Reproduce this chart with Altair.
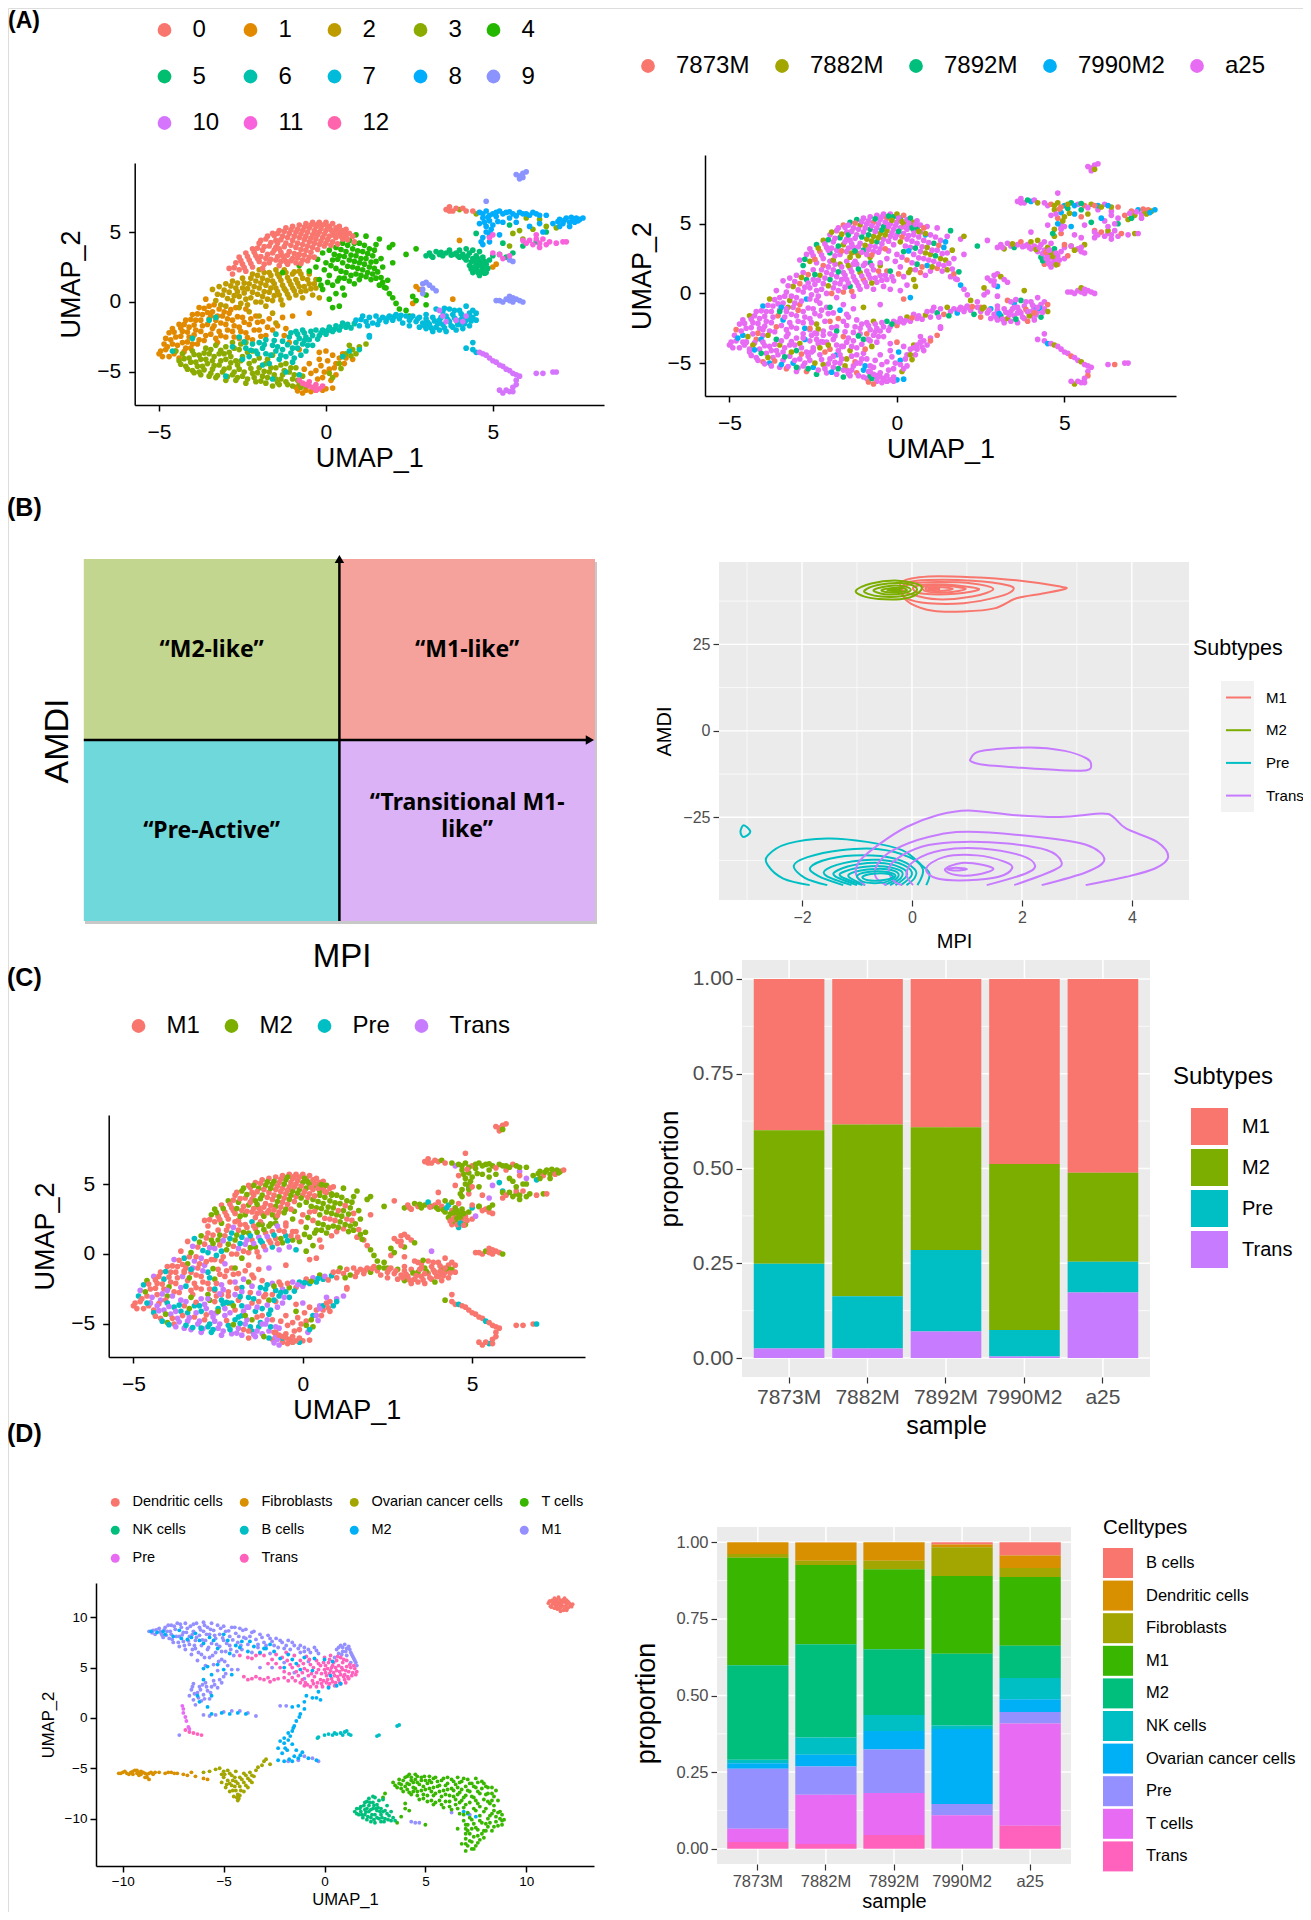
import itertools
import altair as alt
import pandas as pd

W, H = 1295, 1904
FONT = "Liberation Sans"

# ---------- UMAP (A, C): per cluster cell positions ----------
C1 = [(-5.0,-3.7),(-4.9,-3.9),(-4.8,-3.4),(-4.8,-2.6),(-4.7,-3.9),(-4.7,-2.2),(-4.6,-3.0),(-4.6,-1.9),(-4.5,-3.5),(-4.5,-2.5),(-4.4,-1.6),(-4.4,-4.0),(-4.3,-2.9),(-4.3,-2.1),(-4.2,-1.3),(-4.2,-3.3),(-4.1,-2.5),(-4.1,-1.8),(-4.0,-0.9),(-4.0,-3.0),(-3.9,-2.0),(-3.9,-1.3),(-3.8,-0.4),(-3.8,-2.7),(-3.7,-1.7),(-3.7,-0.9),(-3.6,0.2),(-3.6,-2.4),(-3.5,-1.2),(-3.5,-0.3),(-3.4,-1.9),(-3.4,-0.7),(-3.3,-2.6),(-3.3,-1.3),(-3.2,-0.5),(-3.2,-2.1),(-3.1,-1.0),(-3.0,-2.5),(-3.0,-1.6),(-2.9,-0.8),(-2.8,-2.1),(-2.8,-1.3),(-2.7,-0.4),(-2.6,-1.8),(-2.6,-2.6),(-2.5,-1.1),(-2.4,-2.2),(-2.4,-0.5),(-2.3,-1.6),(-2.2,-2.7),(-2.1,-1.0),(-2.0,-2.0),(-1.9,-1.4),(-1.8,-2.4),(-1.7,-1.2),(-1.6,-2.0),(-1.3,-1.1),(-1.2,-1.9),(-1.0,-1.0),(-1.1,-2.9),(-0.8,-3.4),(-0.5,-0.8),(-0.2,-3.6),(0.0,-3.5),(0.2,-3.8),(0.3,-4.4),(0.1,-4.8),(0.3,-5.2),(-0.1,-5.4),(-0.3,-4.9),(0.5,-3.7),(0.6,-4.0),(0.8,-4.1),(0.4,-4.0),(-0.6,-6.3),(-0.7,-6.5),(-0.9,-6.1),(-0.3,-6.3),(0.0,-6.2),(-0.2,-4.1),(-0.5,-4.4),(4.0,4.4),(3.8,0.2),(2.7,1.1),(2.8,0.9),(2.6,-0.1),(5.0,2.5),(5.1,2.7),
 (-4.95,-3.5),(-4.85,-3.0),(-4.75,-3.2),(-4.65,-2.7),(-4.55,-2.15),(-4.55,-3.7),(-4.45,-3.1),(-4.35,-2.45),(-4.35,-1.85),(-4.25,-3.55),(-4.25,-1.6),(-4.15,-2.85),(-4.15,-2.15),(-4.05,-1.25),(-4.05,-3.3),(-3.95,-2.35),(-3.95,-1.65),(-3.85,-0.85),(-3.85,-3.0),(-3.75,-2.1),(-3.75,-1.3),(-3.65,-0.45),(-3.65,-2.75),(-3.55,-1.6),(-3.55,-0.75),(-3.45,-2.3),(-3.45,-1.0),(-3.35,-1.7),(-3.35,-0.2),(-3.25,-2.9),(-3.25,-1.0),(-3.15,-1.5),(-3.15,-2.4),(-3.05,-0.7),(-2.95,-2.0),(-2.95,-1.2),(-2.85,-0.55),(-2.75,-1.7),(-2.75,-2.5),(-2.65,-1.05),(-2.55,-2.1),(-2.45,-1.45),(-2.35,-2.55),(-2.25,-1.2),(-2.15,-2.0),(-2.05,-1.45),(-1.95,-2.45),(-1.75,-1.8),(-1.45,-1.7),(-1.25,-2.4),(0.05,-4.2),(0.25,-4.7),(-0.05,-5.0),(-0.15,-4.55),(0.15,-5.6),(-0.25,-5.5),(-0.45,-5.1),(-0.65,-4.8),(0.55,-4.4),(-0.85,-6.35),(-0.45,-6.4),(-0.1,-6.3),(0.2,-6.15)]
C2 = [(-3.4,0.9),(-3.3,0.1),(-3.2,1.1),(-3.1,0.5),(-3.0,-0.3),(-3.0,1.3),(-2.9,0.7),(-2.8,0.1),(-2.8,1.5),(-2.7,1.0),(-2.6,-0.4),(-2.6,0.4),(-2.5,1.7),(-2.5,1.0),(-2.4,0.2),(-2.3,1.3),(-2.3,-0.7),(-2.2,0.7),(-2.2,2.0),(-2.1,1.5),(-2.1,0.0),(-2.0,1.0),(-2.0,2.3),(-1.9,0.4),(-1.9,1.7),(-1.8,-0.3),(-1.8,1.2),(-1.7,2.1),(-1.7,0.7),(-1.6,1.5),(-1.6,0.1),(-1.5,2.3),(-1.5,1.0),(-1.4,0.5),(-1.4,1.8),(-1.3,1.2),(-1.3,-0.2),(-1.2,2.1),(-1.2,0.8),(-1.1,1.5),(-1.1,0.3),(-1.0,2.0),(-1.0,1.0),(-0.9,0.5),(-0.9,1.6),(-0.8,2.2),(-0.8,1.1),(-0.7,0.3),(-0.7,1.7),(-0.6,0.8),(-0.5,1.3),(-0.5,2.0),(-0.4,0.5),(-0.3,1.0),(-0.3,1.6),(-0.2,0.3),(-1.6,-0.8),(-2.0,-1.0),(-1.5,-1.5),
 (-3.25,0.55),(-3.15,-0.2),(-3.05,0.85),(-2.95,0.25),(-2.85,1.15),(-2.75,0.45),(-2.65,0.75),(-2.65,1.35),(-2.55,-0.1),(-2.45,0.65),(-2.45,1.35),(-2.35,-0.2),(-2.35,0.95),(-2.25,1.7),(-2.25,0.3),(-2.15,1.1),(-2.05,0.55),(-2.05,1.9),(-1.95,1.35),(-1.95,0.0),(-1.85,0.75),(-1.85,2.1),(-1.75,1.55),(-1.75,0.2),(-1.65,1.0),(-1.65,1.9),(-1.55,0.45),(-1.55,1.3),(-1.45,2.0),(-1.45,0.75),(-1.35,1.55),(-1.35,0.15),(-1.25,0.95),(-1.25,2.3),(-1.15,1.75),(-1.15,0.55),(-1.05,1.25),(-0.95,0.8),(-0.95,2.15),(-0.85,1.35),(-0.75,0.75),(-0.75,2.0),(-0.65,1.1),(-0.55,1.6),(-0.45,0.95),(-0.35,1.3)]
C3 = [(-4.5,-3.5),(-4.4,-4.2),(-4.3,-3.7),(-4.2,-4.6),(-4.1,-4.0),(-4.0,-3.5),(-4.0,-4.9),(-3.9,-4.3),(-3.8,-3.8),(-3.8,-5.0),(-3.7,-4.6),(-3.6,-3.3),(-3.6,-4.1),(-3.5,-5.3),(-3.5,-3.7),(-3.4,-4.8),(-3.4,-4.2),(-3.3,-3.1),(-3.3,-5.4),(-3.2,-3.7),(-3.2,-4.5),(-3.1,-5.0),(-3.0,-3.2),(-3.0,-4.1),(-3.0,-5.6),(-2.9,-4.7),(-2.9,-3.6),(-2.8,-5.2),(-2.8,-2.9),(-2.7,-4.2),(-2.7,-5.6),(-2.6,-3.4),(-2.6,-4.8),(-2.5,-5.3),(-2.5,-3.9),(-2.4,-5.8),(-2.4,-2.9),(-2.3,-4.4),(-2.2,-5.1),(-2.2,-3.5),(-2.1,-5.7),(-2.0,-4.7),(-2.0,-4.0),(-1.9,-5.3),(-1.8,-5.8),(-1.8,-4.4),(-1.7,-5.0),(-1.6,-6.0),(-1.6,-3.8),(-1.5,-5.5),(-1.5,-4.7),(-1.4,-5.9),(-1.3,-5.2),(-1.2,-4.4),(-1.2,-5.7),(-1.1,-5.0),(-1.0,-6.0),(-1.0,-5.5),(-0.9,-4.7),(-0.8,-5.9),(-0.6,-6.0),(0.1,-5.1),(0.4,-4.4),(0.6,-3.7),(0.8,-3.4),(1.0,-3.2),(1.2,-3.0),(0.9,-3.7),(0.7,-3.1),(4.0,6.6),(4.5,6.3),(5.8,5.1),(6.2,5.2),(6.6,5.4),(6.9,5.3),(6.0,6.0),(6.4,5.9),(5.6,4.9),(5.9,4.5),(5.5,4.0),
 (-4.35,-4.45),(-4.25,-4.05),(-4.15,-4.8),(-4.05,-4.3),(-3.95,-3.75),(-3.95,-5.05),(-3.85,-4.6),(-3.75,-4.1),(-3.75,-5.2),(-3.65,-3.65),(-3.65,-4.85),(-3.55,-4.4),(-3.45,-3.4),(-3.45,-5.1),(-3.35,-3.9),(-3.35,-4.55),(-3.25,-5.25),(-3.15,-3.45),(-3.15,-4.2),(-3.05,-4.8),(-3.05,-3.7),(-2.95,-5.35),(-2.85,-4.35),(-2.85,-3.9),(-2.75,-5.0),(-2.75,-3.3),(-2.65,-4.5),(-2.65,-5.4),(-2.55,-3.0),(-2.55,-4.2),(-2.45,-5.0),(-2.35,-3.6),(-2.35,-5.5),(-2.25,-4.75),(-2.15,-4.2),(-2.15,-5.4),(-2.05,-5.05),(-1.95,-5.65),(-1.85,-4.95),(-1.75,-5.4),(-1.75,-4.1),(-1.65,-4.7),(-1.55,-5.2),(-1.45,-5.75),(-1.35,-4.5),(-1.35,-5.5),(-1.25,-4.9),(-1.15,-5.9),(-1.05,-4.7),(-0.95,-5.2),(-0.85,-5.6),(-0.75,-6.1),(-0.7,-5.3),(0.2,-5.4),(0.45,-4.75),(0.75,-3.85)]
C6 = [(-4.6,-3.5),(-4.0,-2.6),(-3.5,-1.3),(-3.3,-1.1),(-2.8,-3.2),(-2.6,-2.5),(-2.5,-4.1),(-2.4,-3.3),(-2.3,-3.9),(-2.2,-3.0),(-2.1,-3.5),(-2.0,-2.9),(-1.9,-3.3),(-1.9,-4.5),(-1.8,-2.7),(-1.8,-3.7),(-1.7,-4.4),(-1.6,-3.1),(-1.5,-2.3),(-1.5,-3.5),(-1.4,-4.1),(-1.3,-2.8),(-1.3,-3.4),(-1.2,-3.9),(-1.2,-5.0),(-1.1,-2.5),(-1.0,-3.3),(-1.0,-4.3),(-0.9,-2.1),(-0.9,-2.9),(-0.8,-2.6),(-0.8,-5.2),(-0.7,-2.0),(-0.7,-3.0),(-0.6,-2.5),(-0.5,-2.7),(-0.4,-2.4),(-0.4,-3.1),(-0.3,-2.0),(-0.2,-2.4),(-0.1,-2.0),(0.0,-2.3),(0.1,-1.8),(0.2,-2.1),(0.3,-1.7),(0.4,-2.0),(0.5,-1.5),(0.6,-1.8),(-0.6,-3.5),(-1.6,-5.5),(-3.0,-5.3),(0.5,-3.9),(0.7,-3.5),(1.0,-3.4),
 (-2.45,-2.85),(-2.25,-3.45),(-2.05,-3.7),(-1.85,-3.05),(-1.65,-3.8),(-1.55,-2.75),(-1.45,-3.2),(-1.35,-3.8),(-1.15,-3.05),(-1.05,-2.2),(-1.05,-3.65),(-0.95,-4.0),(-0.85,-2.3),(-0.85,-3.3),(-0.75,-3.8),(-0.65,-2.2),(-0.65,-2.75),(-0.55,-3.1),(-0.45,-2.1),(-0.25,-2.65),(-0.15,-2.2),(0.05,-2.05),(0.25,-1.95),(0.45,-1.75),(0.65,-1.6),(0.75,-1.85),(0.85,-1.55)]
C4 = [(-0.1,3.5),(0,2.8),(0.1,3.7),(0.1,1.9),(0.2,3.0),(0.2,1.2),(0.3,3.9),(0.3,2.4),(0.3,0.6),(0.4,3.3),(0.4,1.7),(0.4,-0.3),(0.5,4.2),(0.5,2.8),(0.5,1.0),(0.6,3.6),(0.6,2.1),(0.7,4.4),(0.7,3.0),(0.7,1.5),(0.8,3.8),(0.8,2.5),(0.9,3.3),(0.9,2.0),(0.9,4.8),(1.0,4.2),(1.0,2.8),(1.0,1.6),(1.1,3.6),(1.1,2.3),(1.2,3.1),(1.2,1.8),(1.2,4.7),(1.3,3.8),(1.3,2.5),(1.4,3.3),(1.4,2.0),(1.5,2.9),(1.5,1.7),(1.5,4.1),(1.6,4.5),(1.6,1.2),(1.7,2.5),(1.7,1.4),(1.8,1.0),(1.9,3.9),(2.0,4.1),(1.9,0.6),(2.0,0.3),(2.1,-0.1),(2.2,-0.5),(2.0,2.8),(2.4,3.4),(2.4,-0.6),(2.7,3.8),(2.5,-1.0),(2.7,0.1),(3.0,-0.2),(2.6,0.4),(3.0,0.5),(-0.3,2.5),(-0.5,2.2),(-0.8,2.6),(-1.3,2.1),(-0.2,1.6),(-0.1,0.9),(0.1,0.2),(0.2,-0.4),
 (0.15,2.6),(0.25,3.4),(0.35,1.5),(0.35,3.05),(0.45,2.2),(0.45,3.75),(0.55,0.5),(0.55,1.7),(0.55,3.25),(0.65,2.55),(0.65,4.05),(0.75,1.9),(0.75,3.35),(0.85,1.3),(0.85,2.9),(0.85,4.2),(0.95,2.4),(0.95,3.65),(1.05,1.9),(1.05,3.1),(1.15,2.7),(1.15,4.05),(1.25,2.1),(1.25,3.45),(1.35,1.6),(1.35,2.85),(1.45,2.4),(1.45,3.7),(1.55,2.15),(1.65,1.75),(1.65,3.1),(1.75,1.05),(1.85,1.55),(-0.05,2.3),(-0.25,3.05),(0.05,1.4),(-0.15,1.2)]
C0 = [(-2.9,2.4),(-2.8,2.0),(-2.7,2.8),(-2.6,2.3),(-2.6,3.2),(-2.5,2.7),(-2.4,3.5),(-2.4,2.2),(-2.3,3.0),(-2.2,3.8),(-2.2,2.5),(-2.1,3.3),(-2.0,4.2),(-2.0,2.9),(-1.9,3.7),(-1.9,2.4),(-1.8,4.5),(-1.8,3.1),(-1.7,4.0),(-1.7,2.8),(-1.6,4.9),(-1.6,3.5),(-1.5,4.4),(-1.5,3.0),(-1.5,3.9),(-1.4,5.1),(-1.4,3.8),(-1.4,2.6),(-1.3,4.7),(-1.3,3.3),(-1.2,5.3),(-1.2,4.2),(-1.2,2.9),(-1.1,4.9),(-1.1,3.6),(-1.0,5.4),(-1.0,4.4),(-1.0,3.1),(-0.9,5.0),(-0.9,3.9),(-0.9,2.8),(-0.8,5.5),(-0.8,4.6),(-0.8,3.4),(-0.7,5.1),(-0.7,4.1),(-0.7,3.0),(-0.6,5.6),(-0.6,4.7),(-0.6,3.7),(-0.5,5.3),(-0.5,4.3),(-0.5,3.2),(-0.4,5.7),(-0.4,4.8),(-0.4,3.9),(-0.3,5.4),(-0.3,4.5),(-0.2,5.7),(-0.2,5.0),(-0.2,4.1),(-0.1,5.5),(-0.1,4.6),(0,5.7),(0,5.1),(0,4.2),(0.1,5.4),(0.1,4.7),(0.2,5.6),(0.2,5.0),(0.2,4.3),(0.3,5.3),(0.3,4.6),(0.4,5.4),(0.4,4.9),(0.5,5.1),(0.5,4.5),(0.6,5.2),(0.6,4.7),(0.7,4.9),(0.8,4.7),(0.85,4.3),(3.6,6.6),(3.7,6.8),(3.8,6.5),(3.9,6.7),(4.1,6.7),(4.2,6.5),(4.4,6.5),(3.7,6.5),
 (-2.75,2.45),(-2.55,2.95),(-2.45,2.45),(-2.35,3.25),(-2.25,2.75),(-2.15,3.55),(-2.05,3.1),(-2.05,3.85),(-1.95,3.25),(-1.95,4.4),(-1.85,2.7),(-1.85,3.95),(-1.75,3.4),(-1.75,4.7),(-1.65,3.05),(-1.65,4.25),(-1.55,3.7),(-1.55,4.75),(-1.45,3.25),(-1.45,4.2),(-1.45,4.9),(-1.35,2.9),(-1.35,3.55),(-1.35,4.45),(-1.25,3.05),(-1.25,3.95),(-1.25,5.05),(-1.15,2.7),(-1.15,3.35),(-1.15,4.6),(-1.05,2.95),(-1.05,4.05),(-1.05,5.15),(-0.95,3.45),(-0.95,4.7),(-0.85,3.15),(-0.85,4.2),(-0.85,5.2),(-0.75,2.75),(-0.75,3.75),(-0.75,4.85),(-0.65,3.35),(-0.65,4.45),(-0.65,5.35),(-0.55,2.95),(-0.55,4.0),(-0.55,5.0),(-0.45,3.55),(-0.45,4.55),(-0.45,5.5),(-0.35,3.2),(-0.35,4.2),(-0.35,5.1),(-0.25,3.75),(-0.25,4.8),(-0.25,5.55),(-0.15,4.35),(-0.15,5.25),(-0.05,4.0),(-0.05,4.85),(0.05,4.45),(0.05,5.4),(0.15,4.05),(0.15,5.15),(0.25,4.75),(0.35,4.15),(0.35,5.05),(0.45,4.7),(0.55,4.95),(0.65,4.45)]
C5 = [(3.0,3.3),(3.1,3.5),(3.2,3.2),(3.3,3.6),(3.4,3.4),(3.5,3.3),(3.6,3.5),(3.7,3.7),(3.8,3.4),(3.9,3.5),(4.0,3.7),(4.0,3.2),(4.1,3.4),(4.2,3.8),(4.2,3.0),(4.3,3.5),(4.3,2.6),(4.4,3.1),(4.4,2.1),(4.4,3.7),(4.5,2.7),(4.5,3.3),(4.5,2.3),(4.6,1.9),(4.6,2.9),(4.6,3.6),(4.7,2.4),(4.7,3.2),(4.8,2.7),(4.8,2.1),(4.9,3.0),(5.0,3.3),(5.2,3.4),(5.4,3.2),(4.5,4.9),(5.6,3.5),(5.9,4.0),(6.3,4.3),(6.6,5.0),(4.9,4.7),(5.5,5.5),(5.3,4.2),
 (3.15,3.3),(3.45,3.55),(3.75,3.35),(3.95,3.3),(4.15,3.15),(4.25,3.3),(4.35,2.85),(4.35,2.35),(4.45,2.5),(4.45,2.95),(4.55,2.1),(4.55,2.55),(4.65,2.65),(4.65,2.2),(4.75,2.9),(4.75,2.05),(4.85,2.4),(4.55,3.1)]
C7 = [(0.9,-1.3),(1.0,-1.7),(1.1,-1.0),(1.2,-1.4),(1.3,-2.4),(1.3,-1.1),(1.4,-1.5),(1.5,-1.0),(1.6,-1.3),(1.7,-1.1),(1.8,-1.4),(1.9,-1.0),(2.0,-1.3),(2.1,-0.9),(2.2,-1.2),(2.3,-1.5),(2.4,-1.0),(2.5,-1.3),(2.5,-1.7),(2.6,-1.0),(2.7,-1.4),(2.8,-1.8),(2.8,-1.1),(2.9,-1.5),(3.0,-0.9),(3.0,-1.2),(3.0,-1.9),(3.1,-1.6),(3.2,-2.1),(3.2,-1.1),(3.3,-0.5),(3.3,-1.8),(3.4,-1.3),(3.4,-2.0),(3.5,-0.7),(3.5,-1.6),(3.6,-1.0),(3.6,-2.1),(3.7,-1.4),(3.7,-0.5),(3.8,-1.8),(3.8,-0.9),(3.9,-2.0),(3.9,-1.3),(4.0,-0.6),(4.0,-1.6),(4.1,-1.0),(4.1,-1.9),(4.2,-0.3),(4.2,-1.3),(4.3,-0.8),(4.3,-1.7),(4.4,-1.1),(4.4,-0.6),(4.5,-0.8),(4.5,-1.3),(4.2,-3.3),(4.4,-3.4),(4.5,-3.6),(4.4,-2.9),(1.3,-2.5),
 (1.05,-1.25),(1.25,-1.7),(1.55,-1.6),(1.85,-1.15),(2.05,-1.05),(2.25,-0.95),(2.55,-1.1),(2.75,-1.2),(2.95,-1.7),(3.05,-1.45),(3.15,-1.85),(3.25,-1.35),(3.35,-1.55),(3.45,-1.1),(3.55,-1.85),(3.65,-1.25),(3.75,-1.7),(3.85,-1.15),(3.95,-1.6),(4.05,-1.25),(4.15,-1.55),(4.25,-1.05),(4.35,-1.35),(4.05,-0.85),(3.85,-0.6),(3.55,-0.45)]
C8 = [(4.6,6.4),(4.8,6.5),(5.0,6.3),(5.2,6.5),(5.4,6.4),(5.6,6.3),(5.8,6.4),(6.0,6.3),(6.2,6.4),(6.4,6.2),(6.6,6.2),(4.7,6.0),(4.9,5.8),(5.1,6.1),(4.6,5.6),(4.8,5.4),(5.0,5.5),(5.3,5.7),(4.9,4.9),(4.7,4.6),(4.9,4.3),(4.7,4.1),(5.2,4.8),(5.5,6.0),(6.5,5.0),(7.0,5.9),(7.1,5.6),(7.2,6.0),(7.3,5.7),(7.4,5.9),(7.5,6.0),(7.6,5.9),(7.7,6.0),(7.0,5.4),(7.3,5.4),(6.8,5.6),(5.7,5.7),(6.1,5.4),(6.4,5.6),
 (4.7,6.3),(4.9,6.2),(5.1,6.4),(5.3,6.3),(5.5,6.45),(5.7,6.15),(5.9,6.3),(6.1,6.2),(6.3,6.3),(4.75,5.7),(4.95,5.2),(4.85,6.05),(5.15,5.75),(4.8,5.0),(4.65,4.3),(7.15,5.85),(7.35,6.05),(7.45,5.7),(7.55,5.8),(6.95,5.75)]
C9 = [(5.8,8.8),(5.8,9.0),(5.9,9.2),(5.7,9.1),(5.9,8.9),(6.0,9.3),(4.8,7.2),(5.1,0.1),(5.2,0.1),(5.3,0.0),(5.4,0.2),(5.5,0.1),(5.5,0.4),(5.6,0.0),(5.7,0.2),(5.8,0.1),(5.9,0.0),(5.6,0.3),(2.9,1.3),(3.0,1.4),(3.1,1.2),(3.2,1.0),(3.3,0.8),(2.9,0.6),(2.9,0.9),(5.5,3.0),(5.6,2.9)]
C10 = [(3.4,-0.6),(3.5,-1.0),(3.6,-1.4),(3.9,-1.3),(4.1,-1.4),(4.2,-1.0),(4.6,-3.6),(4.7,-3.7),(4.8,-3.8),(4.9,-4.0),(5.0,-4.2),(5.1,-4.3),(5.2,-4.5),(5.3,-4.6),(5.4,-4.8),(5.5,-4.9),(5.6,-5.1),(5.7,-5.2),(5.8,-5.3),(5.7,-5.6),(5.7,-5.9),(5.6,-6.1),(5.5,-6.4),(5.3,-6.5),(5.2,-6.3),(5.6,-6.4),(5.4,-6.3),(6.3,-5.1),(6.5,-5.1),(6.8,-5.0),(6.9,-5.0)]
C11 = [(5.9,4.4),(6.0,4.2),(6.1,4.4),(6.2,4.1),(6.3,4.5),(6.4,4.2),(6.5,4.5),(6.6,4.1),(6.7,4.3),(6.9,4.2),(7.1,4.3),(7.2,4.3),(6.3,4.8),(6.4,3.9),(5.0,3.5),(5.2,3.4),(5.3,3.1),(5.5,3.3),(4.9,4.6),(5.0,4.8)]
C12 = [(-0.8,-5.6),(-0.7,-5.8),(-0.6,-5.9),(-0.5,-6.0),(-0.4,-6.1),(-0.3,-5.9),(-0.2,-6.2),(-0.5,-5.7),(-0.3,-6.3),(-0.1,-6.0)]

CLUSTER_ORDER = [("1",C1,"eeeaeedeeebe","mmmtmpmnmmtm"),("2",C2,"eeebeeaeecee","mnpmtnmpmnmt"),("3",C3,"eebeeeaeedec","tptmtpntpmt"),
                 ("6",C6,"eeceeaeebeee","ptmptpnptm"),("4",C4,"eebeceeaeebd","nmnnmnnmnn"),("0",C0,"ecebeeceabee","mmnmnmmnmnmm"),
                 ("5",C5,"eebeeceaeeb","nmmnmnnp"),("7",C7,"eeeceeabeede","mmnmmmnmmm"),("8",C8,"abdceabdeb","nnmnnn"),
                 ("9",C9,"eeeebeee","mmmmnm"),("10",C10,"eeeeaeeb","mmmmmmpm"),("11",C11,"eeaebe","nmnnm"),("12",C12,"ee","m")]
CODE_S = {"a":"7873M","b":"7882M","c":"7892M","d":"7990M2","e":"a25"}
CODE_T = {"m":"M1","n":"M2","p":"Pre","t":"Trans"}
rows = []
for name, pts, s_codes, t_codes in CLUSTER_ORDER:
    for (x, y), s, t in zip(pts, itertools.cycle(s_codes), itertools.cycle(t_codes)):
        rows.append(dict(x=x, y=y, cluster=name, sample=CODE_S[s], subtype=CODE_T[t]))
umap = pd.DataFrame(rows)

# ---------- UMAP (D) ----------
D_M1 = [(-8.7,8.6),(-8.5,8.7),(-8.4,8.3),(-8.2,8.9),(-8.1,8.4),(-8.0,8.0),(-7.9,9.0),(-7.8,8.6),(-7.7,7.9),(-7.6,9.2),(-7.6,8.3),(-7.5,7.5),(-7.4,8.8),(-7.3,9.4),(-7.2,8.1),(-7.2,7.1),(-7.1,9.0),(-7.0,8.5),(-7.0,7.6),(-6.9,6.8),(-6.9,9.4),(-6.8,8.9),(-6.7,8.1),(-6.7,7.3),(-6.6,6.3),(-6.5,9.3),(-6.5,8.6),(-6.4,7.7),(-6.4,6.9),(-6.3,5.7),(-6.2,9.0),(-6.2,8.2),(-6.1,7.2),(-6.1,6.3),(-6.0,9.5),(-6.0,8.6),(-5.9,7.7),(-5.9,5.2),(-5.8,9.0),(-5.8,6.8),(-5.7,8.3),(-5.7,6.0),(-5.6,9.4),(-5.6,7.4),(-5.5,8.7),(-5.5,5.3),(-5.4,7.9),(-5.4,6.5),(-5.3,9.2),(-5.3,4.7),(-5.2,8.3),(-5.2,7.1),(-5.1,5.8),(-5.0,9.1),(-5.0,7.7),(-4.9,8.6),(-4.9,6.6),(-4.8,5.2),(-4.7,8.1),(-4.7,7.2),(-4.6,9.0),(-4.5,6.2),(-4.4,8.4),(-4.3,7.5),(-4.3,4.8),(-4.2,8.9),(-4.1,6.8),(-4.0,8.0),(-3.9,8.8),(-3.8,7.3),(-3.6,8.5),(-3.4,7.8),(-3.2,8.3),(-3.0,7.5),(-2.8,8.2),(-2.6,7.6),(-2.4,7.9),(-2.1,7.5),(-1.8,7.7),(-1.5,7.2),(-1.2,7.2),(-0.8,6.8),(-0.5,7.0),(0.6,6.8),(0.8,7.2),(1.0,7.3),(1.1,6.9),(1.2,7.1),(0.7,6.4),(0.9,6.6),(1.3,6.5),(1.4,6.1),(1.5,5.7),(1.1,6.2),(1.6,5.2),(1.3,5.5),(0.5,6.0),(-6.5,3.4),(-6.6,2.8),(-6.7,2.2),(-6.5,1.8),(-6.3,2.5),(-6.2,3.1),(-6.1,1.7),(-6.0,2.3),(-5.9,3.5),(-5.8,2.7),(-5.7,1.9),(-5.6,3.1),(-5.5,3.7),(-5.3,3.0),(-5.1,3.5),(-5.0,4.1),(-6.4,1.3),(-6.0,0.3),(-5.7,0.2),(-5.4,0.3),(-5.0,0.6),(-4.6,0.7),(-4.2,0.7),(-3.8,0.5),(-3.4,0.2),(-7.2,-1.7),(-1.8,-4.3),(-1.3,-4.2),(-1.0,-3.8),(-0.6,-4.0),(-0.3,-4.3),(-2.2,1.2),(-1.9,1.2),(4.3,-10.3),(4.5,-10.4),(4.7,-10.4),(6.3,-9.4),(7.2,-9.6),(-2.0,5.5),(-1.7,6.8),(-1.2,6.5),(-0.8,5.6),(-0.3,6.4),(-2.6,5.0),(-3.2,5.0),(-2.3,7.0),(-3.6,6.5),(-1.5,4.5),(-1.0,3.9),
 (-8.55,8.45),(-8.35,8.75),(-8.15,8.6),(-8.05,8.2),(-7.95,8.75),(-7.85,8.2),(-7.75,9.2),(-7.65,8.6),(-7.55,7.8),(-7.45,9.1),(-7.35,8.1),(-7.25,7.5),(-7.15,9.3),(-7.05,8.25),(-6.95,7.2),(-6.85,8.5),(-6.75,7.65),(-6.65,9.1),(-6.55,6.8),(-6.55,8.3),(-6.45,7.2),(-6.35,9.4),(-6.35,8.0),(-6.25,6.5),(-6.15,8.75),(-6.05,7.75),(-5.95,6.0),(-5.95,9.2),(-5.85,8.3),(-5.75,7.0),(-5.65,8.8),(-5.55,6.2),(-5.45,8.2),(-5.35,7.3),(-5.25,5.6),(-5.15,8.9),(-5.1,6.6),(-5.05,7.95),(-4.95,5.6),(-4.85,7.4),(-4.75,8.65),(-4.65,6.8),(-4.55,7.75),(-4.45,9.0),(-4.35,6.6),(-4.25,8.1),(-4.15,7.2),(-4.05,8.7),(-3.9,7.9),(-3.7,8.1),(-3.5,8.6),(-3.3,7.3),(-3.1,8.0),(-2.9,7.2),(-2.7,7.9),(-2.5,7.2),(-2.2,7.7),(-1.9,7.2),(-1.6,7.5),(-1.3,6.9),(-1.0,7.0),(-0.7,6.5),(-0.4,6.7),(0.7,7.0),(0.9,7.0),(1.05,6.6),(1.25,6.8),(1.35,6.3),(1.45,5.9),(0.85,6.3),(1.55,5.5),(-6.55,3.1),(-6.45,2.4),(-6.25,2.0),(-6.15,2.8),(-6.05,3.3),(-5.95,1.9),(-5.85,3.1),(-5.65,2.5),(-5.45,3.3),(-5.2,3.8),(-4.9,4.4),(-4.6,4.8),(-3.3,7.0),(-2.7,6.4),(-2.0,6.9),(-1.0,6.6)]
D_M2 = [(-8.6,8.6),(-8.3,8.5),(-7.9,8.3),(-7.5,8.1),(-7.2,8.7),(-6.8,7.8),(-6.4,8.4),(-6.0,7.4),(-5.7,8.0),(-5.3,6.9),(-5.0,8.3),(-4.7,6.4),(-4.4,7.2),(-4.1,7.6),(-3.8,6.6),(-3.5,7.1),(-3.2,6.5),(-2.9,6.9),(-2.5,6.6),(-2.2,5.9),(-1.8,6.3),(-1.4,5.4),(-1.0,6.0),(-0.6,4.7),(0.0,5.8),(0.3,4.2),(-5.0,4.8),(-5.6,4.3),(-6.0,4.9),(-4.6,4.3),(-6.2,1.6),(-5.8,1.1),(-0.9,2.2),(-0.6,2.0),(-0.2,1.8),(-1.3,1.2),(-1.6,1.1),(-1.0,1.6),(-0.4,2.0),(-1.0,0.9),(-1.2,0.4),(-1.4,-0.3),(-1.5,-0.8),(-1.6,-1.3),(-1.7,-1.8),(-2.0,-2.0),(-2.2,-2.3),(-2.0,-2.5),(-1.8,-2.2),(-1.6,-2.6),(-2.3,-3.0),(-1.4,-3.2),(-2.1,-3.5),(-1.5,-3.8),(-2.3,-4.2),(-2.0,-4.3),(-1.6,-4.3),(-1.1,-3.4),(-1.3,-4.0),(-0.8,-4.0),(-0.4,-4.2),(-5.6,0.4),(-5.1,0.5),(-4.7,0.4),(-4.3,0.5),(-3.9,0.4),(6.9,-9.3),(7.1,-9.5),(7.5,-9.8),(0.2,3.0),(-0.3,2.6),(0.6,3.2),(0.8,3.4),
 (-8.0,8.6),(-7.1,7.9),(-6.6,8.0),(-6.2,7.7),(-5.5,7.7),(-4.8,7.7),(-4.2,7.0),(-3.7,7.6),(-3.0,6.9),(-2.7,7.3),(-2.0,5.0),(-1.6,5.8),(-1.2,4.8),(-0.5,5.9),(0.4,5.6),(-5.3,5.3),(-5.8,5.1),(-6.0,3.8),(-6.3,2.2),(-5.6,2.2),(-1.85,-3.2),(-1.75,-4.1),(-1.95,-3.0),(-1.2,-3.7),(-1.8,-1.5),(-1.55,-1.0),(-1.25,0.1)]
D_TRANS = [(-4.2,6.2),(-3.8,6.0),(-3.4,6.2),(-3.0,6.2),(-2.8,5.4),(-2.4,6.3),(-2.2,5.0),(-2.0,4.0),(-1.9,6.5),(-1.7,5.3),(-1.6,4.0),(-1.5,6.2),(-1.4,4.6),(-1.2,3.5),(-1.2,5.7),(-1.0,4.9),(-1.0,3.2),(-0.9,6.1),(-0.8,4.2),(-0.7,3.1),(-0.7,5.3),(-0.6,3.7),(-0.4,5.7),(-0.4,4.5),(-0.4,3.1),(-0.2,3.8),(-0.2,5.2),(-0.1,3.1),(0.0,4.8),(0.0,6.0),(0.1,3.5),(0.1,4.2),(0.2,5.5),(0.2,3.1),(0.3,6.2),(0.3,4.7),(0.4,3.6),(0.4,5.2),(0.5,4.2),(0.5,3.2),(0.6,5.7),(0.6,4.7),(0.7,3.8),(0.7,5.2),(0.8,3.4),(0.8,4.3),(0.8,6.0),(0.9,5.5),(0.9,4.8),(1.0,3.8),(1.0,4.3),(1.1,5.1),(1.1,5.7),(1.2,4.6),(1.2,3.9),(1.3,5.0),(1.4,4.5),(1.5,4.9),(1.6,4.6),(-4.0,4.1),(-3.6,3.9),(-3.2,3.9),(-2.8,4.0),(-2.5,3.8),(-6.9,-1.2),(-6.7,-1.4),(-6.5,-1.5),(-6.3,-1.6),(-6.1,-1.7),
 (-3.6,5.9),(-3.2,6.4),(-2.6,5.8),(-2.4,5.4),(-2.1,6.0),(-2.0,4.6),(-1.85,5.7),(-1.75,4.4),(-1.6,5.0),(-1.45,3.7),(-1.3,4.2),(-1.3,5.2),(-1.1,3.8),(-1.1,4.5),(-1.05,5.4),(-0.95,3.5),(-0.85,4.7),(-0.85,3.3),(-0.75,5.8),(-0.65,4.4),(-0.55,3.4),(-0.55,5.0),(-0.5,4.1),(-0.35,3.5),(-0.3,4.8),(-0.3,5.4),(-0.15,3.4),(-0.15,4.4),(-0.05,5.5),(-0.05,3.7),(0.05,4.5),(0.05,5.2),(0.15,3.8),(0.15,4.9),(0.25,5.8),(0.25,4.4),(0.25,3.4),(0.35,5.0),(0.35,3.9),(0.45,5.5),(0.45,4.5),(0.55,3.5),(0.55,5.0),(0.65,4.1),(0.65,6.1),(0.75,4.6),(0.75,3.5),(0.85,5.0),(0.95,4.1),(0.95,5.8),(1.05,3.5),(1.05,4.7),(1.15,4.1),(1.25,5.3),(1.35,4.2),(1.45,5.2),(1.55,4.3),(-3.8,3.8),(-3.4,4.1),(-3.0,3.8),(-2.7,3.6),(-2.3,3.9),(-1.8,3.7)]
D_PRE = [(-7.0,0.9),(-6.9,0.1),(-7.0,0.5),(-6.85,-0.3),(-6.75,-0.9),(-6.7,-1.1),(-7.05,1.2)]
D_FIB = [(-10.2,-5.5),(-10.0,-5.4),(-9.8,-5.5),(-9.6,-5.4),(-9.4,-5.2),(-9.3,-5.5),(-9.2,-5.7),(-9.0,-5.4),(-8.8,-5.6),(-8.6,-5.4),(-8.7,-6.1),(-8.9,-5.9),(-8.2,-5.4),(-7.9,-5.5),(-7.6,-5.4),(-7.3,-5.5),(-7.0,-5.6),(-6.8,-5.7),(-6.6,-5.4),(-6.4,-5.8),(-6.0,-6.0),(-5.8,-6.1),(-9.5,-5.6),(-9.1,-5.3),(-8.4,-5.4),
 (-10.1,-5.5),(-9.9,-5.3),(-9.7,-5.6),(-9.5,-5.3),(-9.3,-5.2),(-9.2,-5.4),(-9.1,-5.6),(-8.9,-5.5),(-8.7,-5.5),(-8.5,-5.6),(-8.8,-5.9),(-7.75,-5.4),(-7.45,-5.5)]
D_OV = [(-6.0,-5.4),(-5.7,-5.3),(-5.4,-5.1),(-5.2,-5.0),(-5.0,-5.3),(-5.0,-5.9),(-5.1,-6.4),(-4.9,-6.9),(-4.8,-5.2),(-4.8,-6.2),(-4.7,-7.3),(-4.6,-5.7),(-4.6,-6.7),(-4.5,-7.8),(-4.4,-5.3),(-4.4,-6.3),(-4.4,-7.2),(-4.3,-8.2),(-4.2,-5.9),(-4.2,-6.8),(-4.2,-7.7),(-4.0,-5.5),(-4.0,-6.4),(-4.0,-7.3),(-3.8,-6.0),(-3.8,-6.9),(-3.7,-5.4),(-3.6,-6.4),(-3.5,-5.8),(-3.4,-5.2),(-3.3,-4.9),(-3.1,-4.7),(-3.0,-4.3),(-2.9,-4.1),(-2.7,-4.6),
 (-5.1,-5.6),(-4.95,-5.6),(-4.85,-6.6),(-4.7,-5.5),(-4.7,-6.5),(-4.55,-6.2),(-4.55,-7.2),(-4.45,-5.9),(-4.45,-6.8),(-4.3,-7.6),(-4.3,-6.5),(-4.15,-7.2),(-4.1,-6.1),(-3.9,-5.7),(-3.9,-6.7),(-3.7,-6.2),(-3.6,-5.7),(-4.35,-7.9),(-4.25,-8.0)]
D_B = [(-0.35,-2.0),(-0.3,-1.9),(0,-1.7),(0.2,-1.6),(0.4,-1.7),(0.6,-1.6),(0.8,-1.5),(1,-1.4),(1.2,-1.6),(0.9,-1.7),(1.1,-1.3),(0.5,-1.5),(1.3,-1.7),(2.6,-1.8),(2.7,-1.7),(3.6,-0.8),(3.7,-0.7)]
D_DC = [(11.1,11.4),(11.2,11.1),(11.3,11.7),(11.3,11.3),(11.4,10.9),(11.4,11.9),(11.5,11.5),(11.5,11.1),(11.6,11.3),(11.6,12.0),(11.7,10.6),(11.7,11.7),(11.8,11.1),(11.8,11.5),(11.9,10.8),(11.9,11.9),(12.0,11.3),(12.0,11.7),(12.1,11.0),(12.1,11.5),(12.2,11.2),(12.3,11.3),(11.7,10.9),(11.4,11.6),(12.0,10.7),(11.2,11.6),
 (11.15,11.6),(11.25,11.0),(11.35,11.5),(11.45,11.15),(11.5,11.75),(11.55,10.8),(11.65,11.55),(11.7,11.1),(11.75,11.35),(11.85,10.7),(11.85,11.75),(11.95,11.1),(11.95,11.5),(12.05,10.9),(12.05,11.55),(12.15,11.35),(12.25,11.05),(11.6,10.9),(11.6,11.9),(11.45,11.35)]
D_NK = [(1.5,-9.3),(1.6,-9.0),(1.7,-9.6),(1.8,-8.8),(1.8,-9.3),(1.9,-9.9),(2.0,-8.4),(2.0,-9.1),(2.0,-9.6),(2.1,-10.1),(2.2,-8.0),(2.2,-8.7),(2.2,-9.3),(2.3,-9.9),(2.3,-10.3),(2.4,-8.4),(2.4,-9.0),(2.5,-7.9),(2.5,-9.6),(2.5,-10.4),(2.6,-8.6),(2.6,-9.2),(2.7,-8.2),(2.7,-10.0),(2.8,-9.0),(2.8,-9.6),(2.8,-10.3),(3.0,-9.2),(3.0,-10.0),(3.1,-8.7),(3.2,-9.7),(3.3,-10.2),(3.4,-9.9),(3.5,-10.2),(3.3,-9.3),(2.9,-8.1),
 (1.6,-9.5),(1.75,-9.0),(1.85,-9.6),(1.95,-8.7),(2.05,-9.35),(2.1,-8.3),(2.15,-9.8),(2.25,-8.4),(2.3,-9.1),(2.35,-9.6),(2.45,-8.7),(2.45,-10.1),(2.55,-9.0),(2.6,-9.9),(2.65,-8.9),(2.75,-9.3),(2.85,-9.9),(2.9,-9.3),(2.95,-10.3),(3.1,-9.5),(3.15,-10.1),(2.4,-7.8),(2.1,-9.0)]
D_T = [(3.4,-6.4),(3.6,-6.9),(3.7,-6.1),(3.8,-6.6),(3.9,-7.3),(4.0,-5.9),(4.1,-6.5),(4.1,-7.1),(4.2,-5.6),(4.3,-6.2),(4.3,-7.6),(4.4,-6.9),(4.5,-5.6),(4.6,-6.4),(4.6,-7.3),(4.7,-8.1),(4.8,-5.9),(4.9,-6.8),(4.9,-7.6),(5.0,-6.2),(5.1,-8.3),(5.2,-5.8),(5.2,-7.0),(5.3,-6.4),(5.4,-7.7),(5.4,-8.6),(5.5,-5.9),(5.6,-6.8),(5.7,-7.3),(5.7,-8.2),(5.8,-6.2),(5.9,-8.9),(6.0,-6.7),(6.0,-7.6),(6.1,-5.9),(6.2,-8.3),(6.3,-7.0),(6.3,-9.1),(6.4,-6.3),(6.4,-7.8),(6.5,-8.6),(6.6,-5.9),(6.6,-6.9),(6.7,-7.4),(6.7,-9.5),(6.8,-6.3),(6.8,-8.2),(6.9,-10.2),(6.9,-8.9),(7.0,-6.8),(7.0,-7.7),(7.0,-11.0),(7.0,-12.0),(7.0,-13.2),(7.1,-6.1),(7.1,-9.4),(7.1,-10.6),(7.1,-12.7),(7.2,-7.3),(7.2,-8.4),(7.2,-11.5),(7.3,-6.5),(7.3,-10.1),(7.3,-12.3),(7.4,-7.9),(7.4,-9.0),(7.4,-13.0),(7.5,-6.0),(7.5,-6.9),(7.5,-10.9),(7.6,-8.5),(7.6,-11.7),(7.6,-12.4),(7.7,-7.5),(7.7,-9.7),(7.8,-6.3),(7.8,-10.4),(7.9,-8.1),(7.9,-11.2),(7.9,-11.9),(8.0,-6.8),(8.0,-9.0),(8.1,-7.5),(8.1,-10.0),(8.1,-10.8),(8.2,-8.5),(8.3,-6.9),(8.3,-9.5),(8.3,-11.2),(8.4,-7.8),(8.4,-8.7),(8.5,-10.3),(8.6,-9.4),(8.7,-10.0),(8.8,-9.6),(8.8,-10.6),(8.9,-10.1),(3.0,-7.5),(2.9,-7.9),(4.0,-8.5),(4.2,-9.2),(3.8,-9.8),(4.0,-9.0),(5.0,-10.6),(3.6,-10.4),(6.6,-11.0),(6.8,-12.5),
 (3.5,-6.7),(3.7,-6.5),(3.8,-7.0),(3.9,-6.2),(4.0,-6.8),(4.1,-5.8),(4.2,-6.6),(4.2,-7.4),(4.3,-5.9),(4.4,-6.4),(4.4,-7.3),(4.5,-6.1),(4.5,-7.0),(4.6,-5.8),(4.6,-7.7),(4.7,-6.6),(4.8,-7.2),(4.8,-6.2),(4.9,-8.0),(4.95,-5.8),(5.0,-7.1),(5.1,-6.5),(5.1,-7.7),(5.2,-6.2),(5.3,-7.3),(5.3,-8.2),(5.4,-6.0),(5.4,-6.9),(5.5,-7.5),(5.5,-8.4),(5.6,-6.3),(5.7,-6.7),(5.8,-7.8),(5.8,-8.6),(5.9,-6.0),(5.9,-7.2),(6.0,-8.3),(6.1,-6.5),(6.1,-7.1),(6.2,-7.7),(6.2,-8.8),(6.3,-6.1),(6.4,-7.2),(6.5,-6.6),(6.5,-8.1),(6.6,-7.6),(6.6,-9.0),(6.7,-6.4),(6.7,-8.4),(6.8,-7.1),(6.9,-6.0),(6.9,-7.9),(6.9,-9.6),(7.0,-8.6),(7.0,-10.6),(7.0,-11.5),(7.0,-12.5),(7.1,-7.2),(7.1,-11.2),(7.2,-6.5),(7.2,-9.9),(7.2,-12.2),(7.3,-7.8),(7.3,-11.0),(7.3,-13.0),(7.4,-6.8),(7.4,-10.5),(7.4,-11.8),(7.5,-8.2),(7.5,-9.2),(7.5,-12.7),(7.6,-6.4),(7.6,-7.3),(7.6,-11.1),(7.7,-8.8),(7.7,-10.2),(7.7,-12.1),(7.8,-7.0),(7.8,-11.5),(7.9,-6.5),(7.9,-9.3),(8.0,-7.6),(8.0,-10.5),(8.0,-11.2),(8.1,-8.3),(8.1,-6.9),(8.2,-9.7),(8.2,-10.4),(8.3,-7.5),(8.3,-8.2),(8.4,-9.2),(8.4,-10.8),(8.5,-7.2),(8.5,-9.8),(8.6,-10.7),(8.7,-9.3),(8.8,-10.2),(8.6,-8.2)]
D_TYPES = ["Dendritic cells","Fibroblasts","Ovarian cancer cells","T cells","NK cells","B cells","M2","M1","Pre","Trans"]
D_COLORS = ["#F8766D","#D89000","#A3A500","#39B600","#00BF7D","#00BFC4","#00B0F6","#9590FF","#E76BF3","#FF62BC"]
D_SERIES = [("M1",D_M1),("Trans",D_TRANS),("M2",D_M2),("Pre",D_PRE),("Fibroblasts",D_FIB),("Ovarian cancer cells",D_OV),("B cells",D_B),("Dendritic cells",D_DC),("T cells",D_T),("NK cells",D_NK)]
umap_d = pd.DataFrame([dict(x=x, y=y, t=n) for n, p in D_SERIES for x, y in p])

# ---------- Contours of panel B (right) ----------
CLOSED = {
 "M1":[[(-0.18,43.1),(0.3,44.6),(1.1,44.4),(1.9,43.5),(2.7,41.7),(2.78,41.0),(2.38,39.7),(1.9,38.3),(1.5,35.4),(0.94,34.5),(0.38,34.7),(-0.02,36.8),(-0.18,39.5)],
       [(0.3,43.6),(1.1,43.4),(1.74,42.1),(1.84,40.7),(1.58,38.8),(0.94,36.9),(0.3,36.9),(-0.1,38.3),(-0.18,40.7),(-0.1,42.8)],
       [(0,42.5),(0.46,43),(1.1,42.6),(1.48,41),(1.1,38.8),(0.46,38),(0,39.4),(-0.18,41)],
       [(0.14,42.1),(0.62,42.3),(1.22,41),(0.78,39.6),(0.22,39.6),(0.02,41)],
       [(0.22,41.7),(0.62,41.9),(0.98,41),(0.62,40),(0.26,40.3)],
       [(0.26,41.4),(0.54,41.5),(0.74,41),(0.5,40.4),(0.3,40.6)],
       [(0.3,41.1),(0.42,41.2),(0.5,41),(0.4,40.7)]],
 "M2":[[(-1.02,40.5),(-0.74,42.6),(-0.26,43.4),(0.14,42.1),(0.14,40.2),(-0.1,38.3),(-0.5,38),(-0.86,38.8)],
       [(-0.86,40.6),(-0.6,42.2),(-0.2,42.7),(0.06,41.6),(0.06,40.1),(-0.2,38.9),(-0.56,38.8),(-0.8,39.6)],
       [(-0.7,40.6),(-0.45,41.8),(-0.15,41.8),(-0.02,40.7),(-0.2,39.6),(-0.5,39.5)],
       [(-0.55,40.7),(-0.35,41.3),(-0.15,41.2),(-0.1,40.5),(-0.3,40),(-0.48,40.1)],
       [(-0.45,40.7),(-0.3,41),(-0.2,40.7),(-0.3,40.4)]],
 "Pre":[[(-1.0,-42),(-0.8,-40.8),(-0.45,-40.8),(-0.3,-42),(-0.5,-43.8),(-0.85,-43.8)],
        [(-0.9,-42.2),(-0.7,-41.3),(-0.42,-41.4),(-0.35,-42.3),(-0.55,-43.2),(-0.8,-43.2)],
        [(-3.06,-27.3),(-2.94,-29.2),(-3.06,-30.7),(-3.12,-29.2)]],
 "Trans":[[(0.26,-39.8),(0.58,-36.5),(1.18,-36),(1.7,-37.9),(1.82,-39.8),(1.58,-42.2),(1.02,-43.2),(0.46,-42.7)],
          [(0.6,-40),(0.9,-38.2),(1.3,-38.8),(1.48,-40),(1.2,-41.5),(0.8,-41.7)],
          [(0.64,-40),(0.8,-39.6),(1,-40),(0.8,-40.4)],
          [(1.07,-8),(1.26,-5.8),(2.14,-4.8),(2.78,-5.8),(3.18,-8),(3.26,-9.9),(3.18,-11.4),(2.7,-11.4),(1.9,-10.6),(1.34,-9.9),(1.1,-9)]],
}
OPEN = {
 "Pre":[[(-1.86,-44.6),(-2.34,-42.7),(-2.62,-38.9),(-2.62,-36),(-2.26,-32.6),(-1.54,-31.1),(-0.82,-32.1),(-0.18,-34.5),(0.18,-38.9),(0.32,-41.3),(0.26,-44.6)],
        [(-1.54,-44.6),(-1.95,-42.5),(-2.15,-39),(-1.9,-36.5),(-1.3,-34.5),(-0.6,-34.2),(-0.05,-36.5),(0.2,-40),(0.1,-44.6)],
        [(-1.25,-44.6),(-1.7,-42),(-1.85,-39.5),(-1.5,-37),(-0.9,-36),(-0.3,-37),(0.05,-40),(0.05,-42.5),(-0.1,-44.6)],
        [(-1.1,-44.6),(-1.55,-42),(-1.55,-40),(-1.1,-37.8),(-0.6,-37.3),(-0.15,-38.8),(0.0,-41.5),(-0.2,-44.6)],
        [(-1,-44.6),(-1.4,-42),(-1.35,-40.3),(-0.95,-38.5),(-0.5,-38.3),(-0.15,-40),(-0.1,-42),(-0.3,-44.6)],
        [(-0.9,-44.6),(-1.3,-42),(-1.2,-40.5),(-0.85,-39.3),(-0.5,-39.2),(-0.2,-40.5),(-0.2,-42.5),(-0.4,-44.6)],
        [(-0.85,-44.6),(-1.15,-42.2),(-1.05,-40.8),(-0.75,-40),(-0.45,-40),(-0.25,-41.2),(-0.3,-43),(-0.5,-44.6)]],
 "Trans":[[(3.16,-44.6),(3.9,-42.2),(4.42,-39.8),(4.66,-36.5),(4.46,-32.1),(3.9,-28.3),(3.66,-24.9),(3.46,-23.9),(2.7,-24.9),(1.9,-24.4),(1.02,-23),(0.46,-24.4),(-0.1,-27.8),(-0.58,-32.6),(-0.94,-37.4),(-1.02,-41.3),(-0.86,-44.6)],
          [(2.36,-44.6),(3.18,-40.8),(3.5,-37.2),(3.18,-33),(2.3,-30.7),(1.02,-29.2),(0.3,-30.7),(-0.34,-34.5),(-0.62,-38.4),(-0.66,-42.2),(-0.46,-44.6)],
          [(1.86,-44.6),(2.58,-40.3),(2.72,-37.9),(2.46,-34.5),(1.74,-32.6),(0.94,-32.1),(0.3,-33),(-0.18,-36),(-0.42,-39.8),(-0.34,-43.2),(-0.18,-44.6)],
          [(1.36,-44.6),(2.06,-41.3),(2.24,-38.9),(1.98,-36),(1.26,-34),(0.54,-34.5),(0.06,-37.4),(-0.1,-41.3),(0.02,-44.6)]],
}
def contour_df(groups):
    out = []
    for st, cs in groups.items():
        for i, c in enumerate(cs):
            for j, (x, y) in enumerate(c):
                out.append(dict(x=x, y=y, st=st, g=f"{st}{i}", o=j))
    return pd.DataFrame(out)

# ---------- Bars ----------
SAMPLES = ["7873M","7882M","7892M","7990M2","a25"]
SUBTYPES = ["M1","M2","Pre","Trans"]
SUB_VALUES = {"M1":[.399,.384,.391,.488,.511],"M2":[.352,.453,.324,.438,.235],"Pre":[.224,.138,.215,.070,.081],"Trans":[.025,.025,.070,.004,.173]}
CELLTYPES = ["B cells","Dendritic cells","Fibroblasts","M1","M2","NK cells","Ovarian cancer cells","Pre","T cells","Trans"]
CELL_VALUES = {"B cells":[0,.001,0,.007,.043],"Dendritic cells":[.038,.059,.060,.009,.041],"Fibroblasts":[.012,.014,.028,.094,.029],
 "M1":[.351,.259,.261,.254,.225],"M2":[.309,.304,.215,.234,.105],"NK cells":[.011,.056,.052,.011,.069],
 "Ovarian cancer cells":[.018,.039,.060,.245,.042],"Pre":[.196,.092,.142,.037,.037],"T cells":[.043,.161,.137,.108,.334],"Trans":[.022,.015,.045,.001,.075]}
CELL_COLORS = ["#F8766D","#D89000","#A3A500","#39B600","#00BF7D","#00BFC4","#00B0F6","#9590FF","#E76BF3","#FF62BC"]
SUB_COLORS = ["#F8766D","#7CAE00","#00BFC4","#C77CFF"]
HUE13 = ["#F8766D","#E18A00","#BE9C00","#8CAB00","#24B700","#00BE70","#00C1AB","#00BBDA","#00ACFC","#8B93FF","#D575FE","#F962DD","#FF65AC"]
HUE5 = ["#F8766D","#A3A500","#00BF7D","#00B0F6","#E76BF3"]
CLUSTERS = [str(i) for i in range(13)]
def stack_df(values, order):
    return pd.DataFrame([dict(s=s, t=t, v=v, k=order.index(t)) for t in order for s, v in zip(SAMPLES, values[t])])

one = pd.DataFrame({"a":[0]})

def lin(dom, rng):
    return alt.Scale(domain=dom, range=rng, nice=False, zero=False)

def text(t, X, Y, size, weight="normal", angle=0, font=FONT, align="center", color="black"):
    return alt.Chart(pd.DataFrame({"t":[t]})).mark_text(fontSize=size, fontWeight=weight, angle=angle, font=font, align=align, baseline="middle", color=color).encode(
        text="t:N", x=alt.value(X-8), y=alt.value(Y-8))

def pxrect(x0, x1, y0, y1, color, **kw):
    return alt.Chart(one).mark_rect(color=color, **kw).encode(x=alt.value(x0-8), x2=alt.value(x1-8), y=alt.value(y0-8), y2=alt.value(y1-8))

def axis_clean(orient, pos, vals, title, lab, tit, pad, labpad):
    off = (pos-8) - H if orient == "bottom" else -(pos-8)
    return alt.Axis(orient=orient, offset=off, values=vals, title=title, grid=False, labelFontSize=lab, titleFontSize=tit, labelFont=FONT, titleFont=FONT,
              titleFontWeight="normal", domainColor="black", domainWidth=1.5, tickColor="black", tickWidth=1.5, tickSize=6, labelColor="black",
              titleColor="black", titlePadding=pad, labelPadding=labpad, labelOverlap=False, labelFlush=False)

def axis_gg(orient, pos, vals, title, lab, tit, pad, fmt=None, titleY=None):
    off = (pos-8) - H if orient == "bottom" else -(pos-8)
    kw = dict(orient=orient, offset=off, title=title, grid=False, labelFontSize=lab, titleFontSize=tit, labelFont=FONT, titleFont=FONT,
              titleFontWeight="normal", domain=False, tickColor="#333333", tickWidth=1.2, tickSize=6, labelColor="#4D4D4D",
              titleColor="black", titlePadding=pad, labelPadding=3, labelOverlap=False, labelFlush=False, labelAngle=0)
    if vals is not None: kw["values"] = vals
    if fmt: kw["format"] = fmt
    if titleY is not None: kw["titleY"] = titleY
    return alt.Axis(**kw)

def umap_panel(field, dom, colors, x0, x1, y0, y1, legend, size=32):
    sx = lin([-5.73, 8.33], [x0-8, x1-8])
    sy = lin([-7.36, 9.93], [y1-8, y0-8])
    return alt.Chart(umap).mark_circle(size=size, opacity=1).encode(
        x=alt.X("x:Q", scale=sx, axis=axis_clean("bottom", y1, [-5,0,5], "UMAP_1", 21, 27, 3.5, 10)),
        y=alt.Y("y:Q", scale=sy, axis=axis_clean("left", x0, [-5,0,5], "UMAP_2", 21, 27, 11, 8)),
        color=alt.Color(f"{field}:N", scale=alt.Scale(domain=dom, range=colors), legend=legend))

def dot_legend(X, Y, cols, sym=190, lab=24, off=16, colpad=19, rowpad=22.5):
    return alt.Legend(title=None, orient="none", direction="horizontal", legendX=X-8, legendY=Y-8, columns=cols, symbolType="circle", symbolSize=sym, labelFontSize=lab, labelFont=FONT,
                      labelColor="black", labelOffset=off, columnPadding=colpad, rowPadding=rowpad, labelLimit=400, symbolStrokeWidth=0, padding=0)

def hgrid(vals, ydom, yr, x0, x1, w):
    return alt.Chart(pd.DataFrame({"g":vals})).mark_rule(color="white", strokeWidth=w).encode(
        y=alt.Y("g:Q", scale=lin(ydom, yr), axis=None), x=alt.value(x0-8), x2=alt.value(x1-8))

def bar_panel(values, order, colors, x0, x1, y0, y1, lab, xt, yt, yp, xp, lx, ly, sym, off, rowpad, labfs, gw=1.5, titleY=None):
    ydom = [-0.05, 1.05]
    yr = [y1-8, y0-8]
    sx = alt.Scale(domain=SAMPLES, range=[x0-8, x1-8], paddingInner=0.1, paddingOuter=0.15)
    layers = [pxrect(x0, x1, y0, y1, "#EBEBEB"),
              hgrid([.125,.375,.625,.875], ydom, yr, x0, x1, gw/2),
              hgrid([0,.25,.5,.75,1], ydom, yr, x0, x1, gw),
              alt.Chart(pd.DataFrame({"s":SAMPLES})).mark_rule(color="white", strokeWidth=gw).encode(
                  x=alt.X("s:N", scale=sx, axis=None), y=alt.value(y0-8), y2=alt.value(y1-8))]
    bars = alt.Chart(stack_df(values, order)).mark_bar(stroke=None).encode(
        x=alt.X("s:N", scale=sx, axis=axis_gg("bottom", y1, None, "sample", lab, xt, xp)),
        y=alt.Y("v:Q", stack="zero", scale=lin(ydom, yr), axis=axis_gg("left", x0, [0,.25,.5,.75,1], "proportion", lab, yt, yp, ".2f", titleY)),
        color=alt.Color("t:N", scale=alt.Scale(domain=order, range=colors),
                        legend=alt.Legend(title=None, orient="none", legendX=lx-8, legendY=ly-8, columns=1, symbolType="square", symbolSize=sym, symbolStrokeWidth=0,
                                          symbolOpacity=1, labelFontSize=labfs, labelFont=FONT, labelColor="black", labelOffset=off, rowPadding=rowpad, labelLimit=400, padding=0)),
        order=alt.Order("k:Q", sort="descending"))
    return layers + [bars]

layers = []
# ---- A
layers += [text("(A)", 8, 21, 23, "bold", align="left")]
layers += [umap_panel("cluster", CLUSTERS, HUE13, 134.7, 604, 163, 405, dot_legend(152.5, 18, 5))]
layers += [umap_panel("sample", SAMPLES, HUE5, 705, 1176, 155, 396, dot_legend(636, 54, 5, colpad=20))]
# ---- B left
qsx = lin([-1, 1], [83.8-8, 595-8])
qsy = lin([-1, 1], [921-8, 559-8])
quads = pd.DataFrame({"x":[-1,0,-1,0],"x2":[0,1,0,1],"y":[0,0,-1,-1],"y2":[1,1,0,0],"c":["#C3D690","#F6A29C","#6FD8DB","#DAB2F5"]})
layers += [text("(B)", 7, 508, 25, "bold", align="left"),
           pxrect(85, 597, 562, 924, "#C8C8C8"),
           alt.Chart(quads).mark_rect().encode(x=alt.X("x:Q", scale=qsx, axis=None), x2="x2:Q", y=alt.Y("y:Q", scale=qsy, axis=None), y2="y2:Q",
                                               color=alt.Color("c:N", scale=None, legend=None)),
           alt.Chart(pd.DataFrame({"x":[-1],"x2":[0.98],"y":[0]})).mark_rule(color="black", strokeWidth=2.5).encode(x=alt.X("x:Q", scale=qsx, axis=None), x2="x2:Q", y=alt.Y("y:Q", scale=qsy, axis=None)),
           alt.Chart(pd.DataFrame({"x":[0],"y":[-1],"y2":[1.0]})).mark_rule(color="black", strokeWidth=2.5).encode(x=alt.X("x:Q", scale=qsx, axis=None), y=alt.Y("y:Q", scale=qsy, axis=None), y2="y2:Q"),
           alt.Chart(pd.DataFrame({"x":[0],"y":[1.0]})).mark_point(shape="triangle-up", filled=True, color="black", size=90, opacity=1).encode(x=alt.X("x:Q", scale=qsx, axis=None), y=alt.Y("y:Q", scale=qsy, axis=None)),
           alt.Chart(pd.DataFrame({"x":[0.98],"y":[0]})).mark_point(shape="triangle-right", filled=True, color="black", size=90, opacity=1).encode(x=alt.X("x:Q", scale=qsx, axis=None), y=alt.Y("y:Q", scale=qsy, axis=None))]
QUAD_TEXT = pd.DataFrame({"x":[-.5,.5,-.5,.5],"y":[.5,.5,-.5,-.35],"t":["“M2-like”","“M1-like”","“Pre-Active”","“Transitional M1-\nlike”"]})
layers += [alt.Chart(QUAD_TEXT).mark_text(font="Noto Sans", fontWeight="bold", fontSize=23, color="black", baseline="middle", lineBreak="\n", lineHeight=27).encode(x=alt.X("x:Q", scale=qsx, axis=None), y=alt.Y("y:Q", scale=qsy, axis=None), text="t:N"),
           text("AMDI", 58, 741, 34, angle=270), text("MPI", 342, 957, 33)]
# ---- B right
bx0, bx1, by0, by1 = 719, 1189, 562, 900
xdom, ydom = [-3.51, 5.04], [-48.9, 48.8]
xr, yr = [bx0-8, bx1-8], [by1-8, by0-8]
def vgrid(vals, w):
    return alt.Chart(pd.DataFrame({"g":vals})).mark_rule(color="white", strokeWidth=w).encode(x=alt.X("g:Q", scale=lin(xdom, xr), axis=None), y=alt.value(by0-8), y2=alt.value(by1-8))
layers += [pxrect(bx0, bx1, by0, by1, "#EBEBEB"), vgrid([-3,-1,1,3], .7), hgrid([-37.5,-12.5,12.5,37.5], ydom, yr, bx0, bx1, .7), vgrid([-2,0,2,4], 1.4), hgrid([-25,0,25], ydom, yr, bx0, bx1, 1.4),
           pxrect(1221, 1254, 681, 812, "#F2F2F2")]
sc = alt.Scale(domain=SUBTYPES, range=SUB_COLORS)
layers += [alt.Chart(contour_df(OPEN)).mark_line(strokeWidth=2, interpolate="cardinal").encode(
              x=alt.X("x:Q", scale=lin(xdom, xr), axis=None), y=alt.Y("y:Q", scale=lin(ydom, yr), axis=None),
              color=alt.Color("st:N", scale=sc, legend=None), detail="g:N", order="o:Q"),
           alt.Chart(contour_df(CLOSED)).mark_line(strokeWidth=2, interpolate="cardinal-closed").encode(
              x=alt.X("x:Q", scale=lin(xdom, xr), axis=axis_gg("bottom", by1, [-2,0,2,4], "MPI", 16, 20, 6)),
              y=alt.Y("y:Q", scale=lin(ydom, yr), axis=axis_gg("left", bx0, [-25,0,25], "AMDI", 16, 20, 8)),
              color=alt.Color("st:N", scale=sc, legend=alt.Legend(title=None, orient="none", legendX=1225-8, legendY=684-8, columns=1, symbolType="stroke", symbolSize=625, symbolStrokeWidth=2,
                              labelFontSize=15, labelFont=FONT, labelColor="black", labelOffset=14, rowPadding=10.7, padding=0)),
              detail="g:N", order="o:Q"),
           text("Subtypes", 1193, 649, 21.5, align="left")]
# ---- C
layers += [text("(C)", 7, 978, 25, "bold", align="left")]
layers += [umap_panel("subtype", SUBTYPES, SUB_COLORS, 108.7, 585, 1115, 1357, dot_legend(126.5, 1014, 4))]
layers += bar_panel(SUB_VALUES, SUBTYPES, SUB_COLORS, 742, 1150, 960, 1377, 21, 25, 26, 10, 6, 1191, 1108, 1369, 14, 4, 20)
layers += [text("Subtypes", 1173, 1077, 24, align="left")]
# ---- D
dsx = lin([-11.33, 13.36], [96-8, 594-8])
dsy = lin([-14.7, 13.4], [1866-8, 1583-8])
layers += [text("(D)", 7, 1434, 25, "bold", align="left"),
           alt.Chart(umap_d).mark_circle(size=15, opacity=1).encode(
               x=alt.X("x:Q", scale=dsx, axis=axis_clean("bottom", 1866, [-10,-5,0,5,10], "UMAP_1", 13.5, 16.6, 3.5, 2)),
               y=alt.Y("y:Q", scale=dsy, axis=axis_clean("left", 96, [-10,-5,0,5,10], "UMAP_2", 13.5, 16.6, 8, 3)),
               color=alt.Color("t:N", scale=alt.Scale(domain=D_TYPES, range=D_COLORS), legend=dot_legend(108, 1495, 4, sym=80, lab=14.5, off=10, colpad=14, rowpad=13)))]
layers += bar_panel(CELL_VALUES, CELLTYPES, CELL_COLORS, 717, 1071, 1527, 1864, 16.5, 20, 27, 15, 2, 1103, 1548, 900, 13, 2.6, 16.5, titleY=1703-8)
layers += [text("Celltypes", 1103, 1528, 20.5, align="left")]

chart = alt.layer(*layers).resolve_scale(x="independent", y="independent", color="independent").resolve_axis(x="independent", y="independent").resolve_legend(color="independent").properties(
    width=W, height=H, padding=0, autosize=alt.AutoSizeParams(type="none")).configure_view(stroke="transparent", strokeWidth=0).configure(background="white")
chart.save("out.html", embed_options={"renderer": "svg", "actions": False})
